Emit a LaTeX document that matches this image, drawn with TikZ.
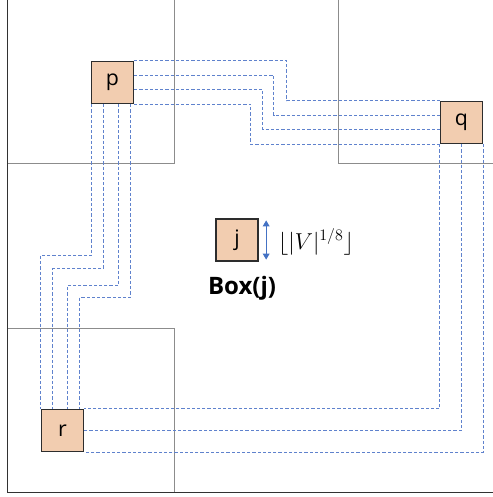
\documentclass[tikz,border=0pt]{standalone}
\usepackage{fontspec}
\setmainfont{Open Sans}
\usetikzlibrary{calc,arrows.meta}
\definecolor{boxfill}{RGB}{242,205,176}
\definecolor{dashblue}{RGB}{95,130,205}
\definecolor{arrblue}{RGB}{68,114,196}
\definecolor{quadgray}{RGB}{140,140,140}
\tikzset{
  cellbox/.style={draw={rgb,255:red,45;green,45;blue,45}, line width=1pt, fill=boxfill,
    minimum size=31.5pt, inner sep=0pt, font=\fontsize{16}{19}\selectfont},
  dl/.style={color=dashblue, line width=0.75pt, dash pattern=on 2.4pt off 1.5pt},
  quad/.style={draw=quadgray, line width=1pt},
  frameline/.style={draw={rgb,255:red,50;green,50;blue,50}, line width=1.2pt},
}
\begin{document}
\begin{tikzpicture}[x=0.75pt,y=-0.75pt]
\useasboundingbox (0,0) rectangle (493,497);
% outer frame (left and bottom)
\draw[frameline] (7.5,0) -- (7.5,492.5) -- (493,492.5);
% quadrant boxes
\draw[quad] (8,163.5) -- (174.5,163.5) -- (174.5,0);
\draw[quad] (338.5,0) -- (338.5,163.5) -- (493,163.5);
\draw[quad] (8,328.5) -- (174.5,328.5) -- (174.5,492);
% nodes
\node[cellbox] (p) at (112.5,82.5) {p};
\node[cellbox] (q) at (461.5,122.5) {q};
\node[cellbox] (r) at (62.5,430.5) {r};
\node[cellbox] (j) at (237,240) {j};
% helper points on the box sides
\coordinate (p1) at ($(p.north east)!1/3!(p.south east)$);
\coordinate (p2) at ($(p.north east)!2/3!(p.south east)$);
\coordinate (q1) at ($(q.north west)!1/3!(q.south west)$);
\coordinate (q2) at ($(q.north west)!2/3!(q.south west)$);
\coordinate (pb0) at ($(p.south west)+(1,0)$);
\coordinate (pb1) at ($(p.south west)+(13,0)$);
\coordinate (pb2) at ($(p.south west)+(28,0)$);
\coordinate (pb3) at ($(p.south west)+(40,0)$);
\coordinate (rt1) at ($(r.north west)+(12,0)$);
\coordinate (rt2) at ($(r.north west)+(27,0)$);
\coordinate (rt3) at ($(r.north west)+(39,0)$);
% p -- q
\draw[dl] (p.north east) -| ($(q.north west)+(-153,0)$) -- (q.north west);
\draw[dl] (p1) -| ($(q1)+(-166,0)$) -- (q1);
\draw[dl] (p2) -| ($(q2)+(-177,0)$) -- (q2);
\draw[dl] (p.south east) -| ($(q.south west)+(-189,0)$) -- (q.south west);
% p -- r
\draw[dl] (pb0) -- ++(0,151) -| (r.north west);
\draw[dl] (pb1) -- ++(0,164) -| (rt1);
\draw[dl] (pb2) -- ++(0,181) -| (rt2);
\draw[dl] (pb3) -- ++(0,193) -| (rt3);
% q -- r
\draw[dl] (q.south west) |- (r.north east);
\draw[dl] (q.south) |- (r.east);
\draw[dl] (q.south east) |- (r.south east);
% size arrow and labels
\coordinate (at) at ($(j.north east)+(7.5,2)$);
\coordinate (ab) at ($(j.south east)+(7.5,-2)$);
\draw[arrblue, line width=0.8pt, {Triangle[length=4.5pt,width=5pt]}-{Triangle[length=4.5pt,width=5pt]}] (at) -- (ab);
\node[font=\fontsize{18}{21}\selectfont, inner sep=0pt] (len) at (316,242)
  {$\bigl\lfloor |V|^{1/8}\bigr\rfloor$};
\node[font=\fontsize{18}{22}\selectfont\bfseries, inner sep=0pt] (boxj) at (242,288) {Box(j)};
\end{tikzpicture}
\end{document}
